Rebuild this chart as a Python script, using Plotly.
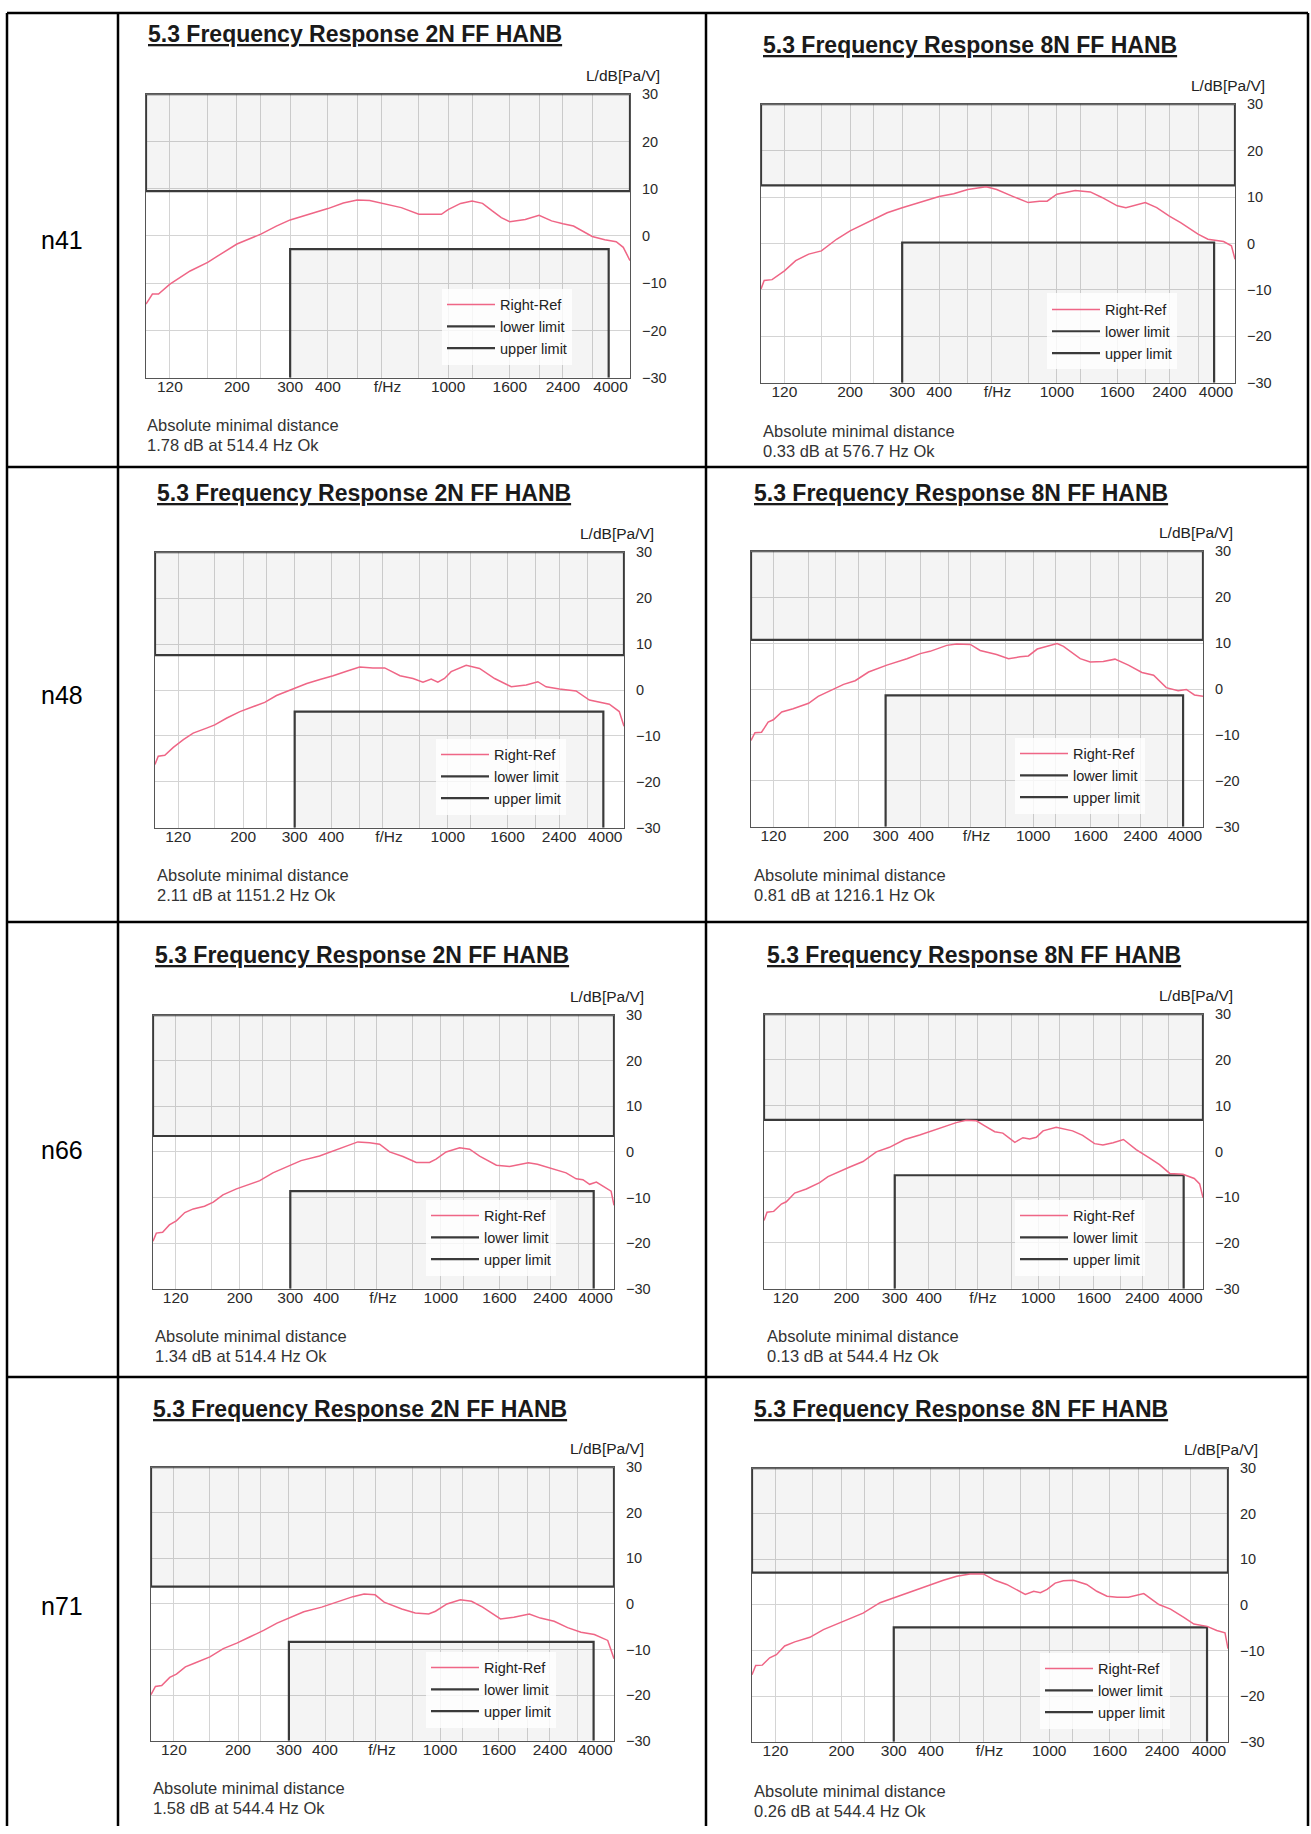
import math
import plotly.graph_objects as go

# ---------------- data ----------------
ROW_LABELS = ["n41", "n48", "n66", "n71"]
TITLES = ["5.3 Frequency Response 2N FF HANB", "5.3 Frequency Response 8N FF HANB"]
MIN_DIST_HEAD = "Absolute minimal distance"
MIN_DIST = ["1.78 dB at 514.4 Hz Ok", "0.33 dB at 576.7 Hz Ok",
            "2.11 dB at 1151.2 Hz Ok", "0.81 dB at 1216.1 Hz Ok",
            "1.34 dB at 514.4 Hz Ok", "0.13 dB at 544.4 Hz Ok",
            "1.58 dB at 544.4 Hz Ok", "0.26 dB at 544.4 Hz Ok"]
SERIES_NAMES = ["Right-Ref", "lower limit", "upper limit"]

UPPER_LIMIT = [9.5, 12.5, 7.6, 10.7, 3.5, 6.9, 3.8, 7.1]
LOWER_LIMIT = [-2.8, 0.2, -4.7, -1.4, -8.6, -5.2, -8.3, -4.9]
UPPER_BAND = [100, 4000]
LOWER_BAND = [300, 3400]

X_TICK_VALS = [120, 200, 300, 400, 630, 1000, 1600, 2400, 3450]
X_TICK_TEXT = ["120", "200", "300", "400", "f/Hz", "1000", "1600", "2400", "4000"]
X_GRID = [120, 160, 200, 240, 300, 400, 500, 600, 800, 1000, 1200, 1600, 2000, 2400, 3000]
Y_TICKS = [-30, -20, -10, 0, 10, 20, 30]
X_RANGE = [100, 4000]
Y_RANGE = [-30, 30]
Y_UNIT = "L/dB[Pa/V]"

N41_2N_F = [100, 105, 110, 120, 140, 160, 180, 200, 240, 270, 300, 350, 400, 450, 500, 550, 600, 650, 700, 800,
            900, 950, 1000, 1100, 1200, 1300, 1400, 1500, 1600, 1800, 2000, 2200, 2400, 2600, 3000, 3300, 3600, 3800, 4000]
N41_2N_DB = [-14.4, -12.3, -12.3, -10.2, -7.4, -5.6, -3.5, -1.7, 0.4, 2.1, 3.4, 4.6, 5.8, 7.0, 7.6, 7.5, 7.0, 6.5, 6.0, 4.6,
             4.6, 4.6, 5.6, 6.9, 7.4, 6.9, 5.3, 3.9, 3.0, 3.5, 4.4, 3.2, 2.6, 2.1, -0.1, -0.8, -1.2, -2.4, -5.2]

N41_8N_F = [100, 102.5, 109, 120, 131, 145, 160, 180, 200, 240, 267, 300, 340, 400, 448, 500, 577, 626, 706, 800,
            874, 927, 1000, 1154, 1297, 1420, 1600, 1711, 1990, 2175, 2400, 2620, 3000, 3240, 3660, 3890, 4000]
N41_8N_DB = [-9.8, -8.0, -7.8, -5.9, -3.7, -2.3, -1.6, 0.9, 2.7, 5.2, 6.6, 7.7, 8.8, 10.1, 10.7, 11.6, 12.2, 11.6, 10.2, 8.8,
             9.1, 9.1, 10.6, 11.4, 11.1, 9.9, 8.1, 7.7, 8.8, 7.7, 5.9, 4.5, 2.0, 0.9, 0.4, -0.5, -3.4]

N48_2N_F = [100, 102.6, 108, 115.5, 125, 135, 150, 160, 176, 195, 217, 237, 260, 297, 330, 366, 406, 451, 500, 555,
            609, 687, 761, 823, 878, 925, 975, 1027, 1156, 1284, 1446, 1648, 1854, 2031, 2167, 2406, 2743, 3046, 3564, 3854, 4000]
N48_2N_DB = [-16.2, -14.4, -14.2, -12.5, -10.8, -9.4, -8.3, -7.6, -6.1, -4.7, -3.6, -2.7, -1.2, 0.2, 1.4, 2.3, 3.1, 4.1, 5.0, 4.8,
             4.8, 3.1, 2.5, 1.7, 2.4, 1.7, 2.5, 4.0, 5.4, 4.7, 2.5, 0.7, 1.1, 1.8, 0.7, 0.2, -0.2, -2.2, -3.1, -4.7, -7.9]

N48_8N_F = [100, 103.3, 109, 115, 120, 128.5, 141, 160, 173, 196, 213, 234, 261, 303, 357, 398, 431, 494, 536, 599,
            649, 742, 818, 899, 962, 1034, 1181, 1216, 1281, 1468, 1593, 1772, 1950, 2176, 2430, 2673, 2964, 3264, 3491, 3730, 4000]
N48_8N_DB = [-11.2, -9.5, -9.4, -7.2, -6.7, -5.0, -4.3, -3.1, -1.6, 0.0, 1.0, 1.8, 3.7, 5.2, 6.6, 7.7, 8.2, 9.5, 9.8, 9.7,
             8.4, 7.5, 6.6, 7.0, 7.2, 8.7, 9.8, 9.9, 9.3, 6.6, 5.9, 6.0, 6.5, 5.2, 3.6, 3.0, 0.3, -0.4, -0.1, -1.3, -1.6]

N66_2N_F = [100, 102.7, 108, 114, 120.5, 129, 138, 151, 162, 175, 195, 217, 235, 261, 290, 327, 379, 433, 469, 515,
            566, 613, 664, 739, 822, 914, 963, 1044, 1163, 1260, 1365, 1561, 1735, 2015, 2167, 2450, 2727, 2955, 3119, 3292,
            3474, 3908, 4000]
N66_2N_DB = [-19.6, -17.8, -17.6, -16.0, -15.1, -13.3, -12.5, -11.9, -11.0, -9.4, -8.1, -7.0, -6.3, -4.6, -3.4, -1.9, -0.9, 0.4, 1.3, 2.2,
             2.0, 1.7, 0.0, -1.0, -2.3, -2.3, -1.6, 0.0, 0.9, 0.6, -0.9, -2.9, -3.2, -2.4, -2.7, -3.7, -4.6, -5.9, -6.1, -7.1,
             -6.6, -8.6, -11.7]

N66_8N_F = [100, 102.6, 108.5, 115.7, 120.6, 129.4, 142.7, 159.6, 171.2, 186.2, 205.6, 229.8, 257, 287, 326, 370, 408, 450, 503, 547,
            596, 639, 695, 744, 823, 881, 932, 986, 1043, 1165, 1337, 1455, 1608, 1725, 1880, 2050, 2281, 2547, 2776, 3026,
            3379, 3717, 3889, 4000]
N66_8N_DB = [-15.1, -13.3, -13.1, -11.5, -11.0, -9.1, -8.2, -6.8, -5.5, -4.5, -3.4, -2.2, -0.1, 0.9, 2.6, 3.6, 4.5, 5.3, 6.3, 6.8,
             6.7, 5.6, 4.3, 4.0, 2.0, 3.0, 2.7, 3.1, 4.5, 5.3, 4.5, 3.5, 1.7, 1.4, 1.9, 2.6, 0.4, -1.4, -2.9, -4.8,
             -5.0, -5.9, -7.1, -10.1]

N71_2N_F = [100, 103.6, 108.9, 116.1, 122.5, 131.5, 141.2, 159.9, 177.9, 198.1, 220.4, 245.3, 272.9, 303.7, 337.9, 389.6, 449.3, 499.9, 546.1, 596.4,
            640.6, 737.7, 821, 913.6, 964.8, 1057, 1176, 1285, 1404, 1619, 1801, 2037, 2225, 2483, 2764, 3075, 3420, 3805, 4000]
N71_2N_DB = [-19.9, -18.1, -17.9, -16.1, -15.4, -13.8, -13.0, -11.6, -9.8, -8.6, -7.2, -5.8, -4.2, -2.9, -1.7, -0.7, 0.6, 1.6, 2.2, 2.0,
             0.4, -1.1, -2.0, -2.2, -1.6, 0.0, 0.9, 0.6, -0.7, -3.3, -2.9, -2.2, -3.1, -3.8, -5.2, -6.2, -6.7, -8.0, -12.0]

N71_8N_F = [100, 102.9, 108.3, 114.7, 120.8, 128.8, 139.3, 156.6, 173.9, 192.4, 216.2, 236.5, 269.7, 306.6, 348.9, 387.4, 440.6, 488.7, 541.9, 600.8,
            657.3, 719.8, 778.1, 831.5, 887.6, 934.8, 984.5, 1048, 1117, 1207, 1338, 1447, 1566, 1694, 1848, 2083, 2342, 2563, 2840, 3070,
            3402, 3666, 3908, 4000]
N71_8N_DB = [-15.3, -13.3, -13.2, -11.6, -10.9, -9.0, -8.1, -7.1, -5.4, -4.2, -2.9, -1.8, 0.5, 1.8, 3.2, 4.1, 5.4, 6.3, 6.8, 6.8,
             5.4, 4.5, 3.4, 2.3, 3.0, 2.7, 3.4, 4.8, 5.3, 5.4, 4.5, 3.0, 1.9, 1.7, 1.7, 2.5, 0.1, -0.9, -2.7, -4.2,
             -4.7, -5.6, -6.1, -9.6]

CURVES = [(N41_2N_F, N41_2N_DB), (N41_8N_F, N41_8N_DB),
          (N48_2N_F, N48_2N_DB), (N48_8N_F, N48_8N_DB),
          (N66_2N_F, N66_2N_DB), (N66_8N_F, N66_8N_DB),
          (N71_2N_F, N71_2N_DB), (N71_8N_F, N71_8N_DB)]

# ---------------- layout (pixels) ----------------
W, H = 1311, 1834
BOX = [(146, 630, 87, 373), (761, 1235, 97, 378),
       (155, 624, 549, 827), (751, 1203, 548, 826),
       (153, 614, 1016, 1292), (764, 1203, 1015, 1292),
       (151, 614, 1472, 1748), (752, 1228, 1473, 1749)]
TITLE_POS = [(146, 26), (761, 37), (155, 489), (752, 489),
             (153, 955), (765, 955), (151, 1413), (752, 1413)]
TEXT_POS = [(145, 421), (761, 427), (155, 875), (752, 875),
            (153, 1340), (765, 1340), (151, 1796), (752, 1799)]
ROW_Y = [234, 693, 1152, 1612]
H_LINES = [5, 463, 922, 1381]
V_LINES = [7, 118, 706, 1308]

FONT = "Liberation Sans, Arial, sans-serif"
PINK = "#ef6686"
DARK = "#3a3a3a"
GRID = "#d4d4d4"
FILL = "rgba(0,0,0,0.045)"


def px(x):
    return x / W


def py(y):
    return 1 - y / H


fig = go.Figure()
annotations = []
shapes = []
layout = {}

for i, (f, db) in enumerate(CURVES):
    n = i + 1
    xa = "x" if n == 1 else f"x{n}"
    ya = "y" if n == 1 else f"y{n}"
    lg = "legend" if n == 1 else f"legend{n}"
    up, lo = UPPER_LIMIT[i], LOWER_LIMIT[i]
    common = dict(xaxis=xa, yaxis=ya, legend=lg, hoverinfo="skip")

    # shaded forbidden regions
    fig.add_trace(go.Scatter(x=[UPPER_BAND[0], UPPER_BAND[1], UPPER_BAND[1], UPPER_BAND[0]],
                             y=[up, up, Y_RANGE[1], Y_RANGE[1]], fill="toself", fillcolor=FILL,
                             mode="lines", line=dict(width=0), showlegend=False, **common))
    fig.add_trace(go.Scatter(x=[LOWER_BAND[0], LOWER_BAND[1], LOWER_BAND[1], LOWER_BAND[0]],
                             y=[lo, lo, Y_RANGE[0], Y_RANGE[0]], fill="toself", fillcolor=FILL,
                             mode="lines", line=dict(width=0), showlegend=False, **common))
    # limit lines
    fig.add_trace(go.Scatter(x=[LOWER_BAND[0], LOWER_BAND[0], LOWER_BAND[1], LOWER_BAND[1]],
                             y=[Y_RANGE[0], lo, lo, Y_RANGE[0]], mode="lines",
                             line=dict(color=DARK, width=2.2), name=SERIES_NAMES[1],
                             legendrank=2, **common))
    fig.add_trace(go.Scatter(x=[UPPER_BAND[0], UPPER_BAND[0], UPPER_BAND[1], UPPER_BAND[1], UPPER_BAND[0]],
                             y=[up, Y_RANGE[1], Y_RANGE[1], up, up], mode="lines",
                             line=dict(color=DARK, width=2.2), name=SERIES_NAMES[2],
                             legendrank=3, **common))
    # measured curve
    fig.add_trace(go.Scatter(x=f, y=db, mode="lines", line=dict(color=PINK, width=1.5),
                             name=SERIES_NAMES[0], legendrank=1, **common))

    L, R, T, B = BOX[i]
    xkey = "xaxis" if n == 1 else f"xaxis{n}"
    ykey = "yaxis" if n == 1 else f"yaxis{n}"
    layout[xkey] = dict(
        type="log", range=[math.log10(X_RANGE[0]), math.log10(X_RANGE[1])],
        domain=[px(L), px(R)], anchor=ya,
        tickmode="array", tickvals=X_TICK_VALS, ticktext=X_TICK_TEXT,
        showgrid=False, ticks="", ticklabelstandoff=-5,
        minor=dict(tickmode="array", tickvals=X_GRID, showgrid=True, gridcolor=GRID, gridwidth=1, ticks=""),
        showline=True, mirror=True, linecolor="#555", linewidth=1.2,
        zeroline=False, tickfont=dict(family=FONT, size=15.5, color="#2a2a2a"), fixedrange=True,
    )
    layout[ykey] = dict(
        range=Y_RANGE, domain=[py(B), py(T)], anchor=xa, side="right",
        tickmode="array", tickvals=Y_TICKS, showgrid=True, gridcolor=GRID, gridwidth=1,
        zeroline=False, ticks="outside", ticklen=8, tickcolor="rgba(0,0,0,0)",
        showline=True, mirror=True, linecolor="#555", linewidth=1.2,
        tickfont=dict(family=FONT, size=14.5, color="#2a2a2a"), fixedrange=True,
    )
    layout[lg] = dict(
        x=px(R - 188), y=py(B - 90), xanchor="left", yanchor="top", xref="paper", yref="paper",
        bgcolor="rgba(255,255,255,0.8)", borderwidth=0, itemwidth=48, tracegroupgap=0,
        font=dict(family=FONT, size=14.5, color="#222"),
    )

    # unit label
    annotations.append(dict(text=Y_UNIT, xref=f"{xa} domain", yref=f"{ya} domain", x=1, y=1,
                            xanchor="right", yanchor="bottom", xshift=32, yshift=8, showarrow=False,
                            font=dict(family=FONT, size=15.5, color="#222")))
    # title
    tx, ty = TITLE_POS[i]
    annotations.append(dict(text=f"<b><u>{TITLES[i % 2]}</u></b>", xref="paper", yref="paper",
                            x=px(tx), y=py(ty), xanchor="left", yanchor="middle", showarrow=False,
                            font=dict(family=FONT, size=23, color="#1a1a1a")))
    # minimal distance text
    sx, sy = TEXT_POS[i]
    annotations.append(dict(text=MIN_DIST_HEAD, xref="paper", yref="paper", x=px(sx), y=py(sy),
                            xanchor="left", yanchor="middle", showarrow=False,
                            font=dict(family=FONT, size=16.5, color="#333")))
    annotations.append(dict(text=MIN_DIST[i], xref="paper", yref="paper", x=px(sx), y=py(sy + 20),
                            xanchor="left", yanchor="middle", showarrow=False,
                            font=dict(family=FONT, size=16.5, color="#333")))

# row labels
for r, lab in enumerate(ROW_LABELS):
    annotations.append(dict(text=lab, xref="paper", yref="paper", x=px(62), y=py(ROW_Y[r]),
                            xanchor="center", yanchor="middle", showarrow=False,
                            font=dict(family=FONT, size=25, color="#000")))

# table grid
for yl in H_LINES:
    shapes.append(dict(type="line", xref="paper", yref="paper", x0=px(V_LINES[0]), x1=px(V_LINES[-1]),
                       y0=py(yl), y1=py(yl), line=dict(color="#000", width=2.5)))
for xl in V_LINES:
    shapes.append(dict(type="line", xref="paper", yref="paper", x0=px(xl), x1=px(xl),
                       y0=py(H_LINES[0]), y1=0, line=dict(color="#000", width=2.5)))

fig.update_layout(
    width=W, height=H, margin=dict(l=0, r=0, t=0, b=0),
    paper_bgcolor="white", plot_bgcolor="white",
    font=dict(family=FONT, color="#222"),
    annotations=annotations, shapes=shapes, **layout,
)

fig.write_html("out.html", config={"displayModeBar": False},
               post_script="document.body.style.margin='0';")
